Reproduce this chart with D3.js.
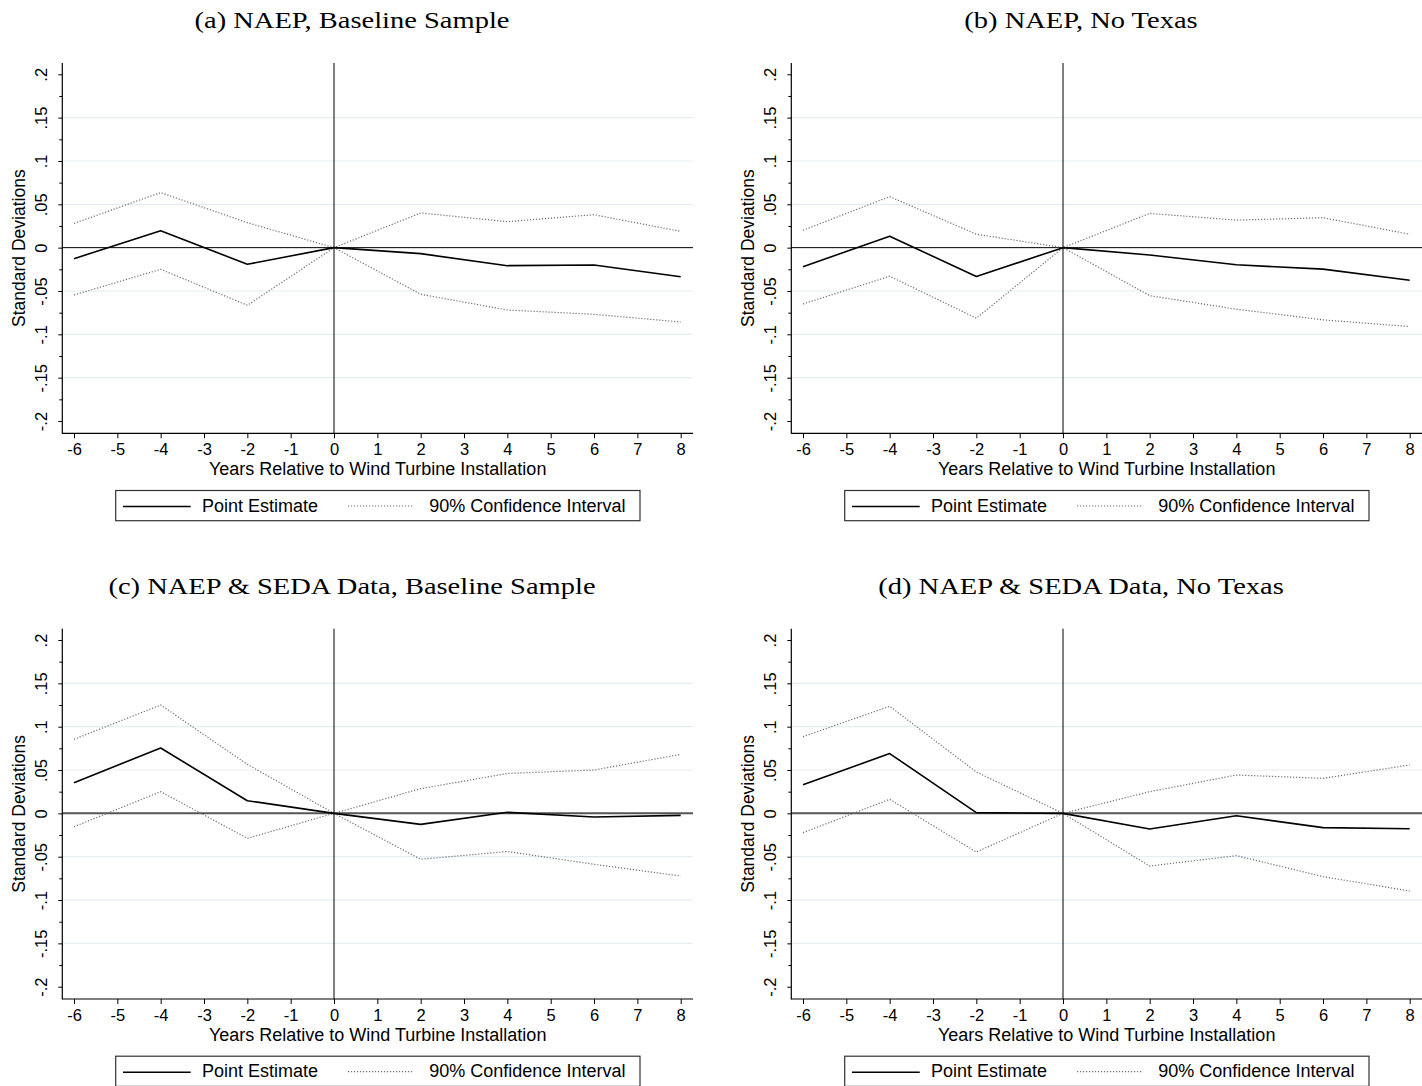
<!DOCTYPE html>
<html lang="en">
<head>
  <meta charset="utf-8">
  <title>Wind turbines and test scores</title>
  <script src="https://d3js.org/d3.v7.min.js"></script>
  <style>
    body { margin: 0; background: #fff; }
    text { font-family: "Liberation Sans", Arial, sans-serif; fill: #000; }
  </style>
</head>
<body>
<script type="text/javascript">
  // event time (years relative to installation)
  var years = [-6, -4, -2, 0, 2, 4, 6, 8];

  // (a) NAEP, baseline sample
  var pointA = [-0.0127, 0.0196, -0.0192, 0, -0.0069, -0.0208, -0.0200, -0.0335];
  var upperA = [0.0280, 0.0635, 0.0288, 0, 0.0400, 0.0300, 0.0380, 0.0188];
  var lowerA = [-0.0546, -0.0250, -0.0665, 0, -0.0538, -0.0719, -0.0769, -0.0858];

  // (b) NAEP, no Texas
  var pointB = [-0.0220, 0.0132, -0.0333, 0, -0.0085, -0.0198, -0.0248, -0.0376];
  var upperB = [0.0200, 0.0589, 0.0155, 0, 0.0395, 0.0318, 0.0345, 0.0155];
  var lowerB = [-0.0650, -0.0330, -0.0814, 0, -0.0554, -0.0710, -0.0833, -0.0910];

  // (c) NAEP & SEDA, baseline sample
  var pointC = [0.0354, 0.0754, 0.0146, 0, -0.0127, 0.0012, -0.0042, -0.0023];
  var upperC = [0.0854, 0.1250, 0.0565, 0, 0.0285, 0.0460, 0.0500, 0.0680];
  var lowerC = [-0.0154, 0.0250, -0.0288, 0, -0.0530, -0.0440, -0.0588, -0.0723];

  // (d) NAEP & SEDA, no Texas
  var pointD = [0.0330, 0.0690, 0.0008, 0, -0.0180, -0.0027, -0.0165, -0.0177];
  var upperD = [0.0885, 0.1235, 0.0477, 0, 0.0250, 0.0442, 0.0404, 0.0558];
  var lowerD = [-0.0223, 0.0162, -0.0446, 0, -0.0608, -0.0488, -0.0730, -0.0896];

  var titles = ["(a) NAEP, Baseline Sample", "(b) NAEP, No Texas",
                "(c) NAEP & SEDA Data, Baseline Sample", "(d) NAEP & SEDA Data, No Texas"];

  var xTicks = [-6, -5, -4, -3, -2, -1, 0, 1, 2, 3, 4, 5, 6, 7, 8];
  var yTicks = [-0.2, -0.15, -0.1, -0.05, 0, 0.05, 0.1, 0.15, 0.2];
  var yTickLabels = ["-.2", "-.15", "-.1", "-.05", "0", ".05", ".1", ".15", ".2"];
  var yMinorTicks = [-0.175, -0.125, -0.075, -0.025, 0.025, 0.075, 0.125, 0.175];
  var gridTicks = [-0.15, -0.1, -0.05, 0.05, 0.1, 0.15];

  var xTitle = "Years Relative to Wind Turbine Installation";
  var yTitle = "Standard Deviations";
  var legendLabels = ["Point Estimate", "90% Confidence Interval"];

  var w = 1422;
  var h = 1086;

  // panel-local geometry
  var plotLeft = 62.3, plotRight = 693, plotTop = 63, plotBottom = 433.3;

  var x = d3.scaleLinear().domain([-6, 8]).range([74, 680.7]);
  var y = d3.scaleLinear().domain([-0.2, 0.2]).range([421, 74.3]);

  var panels = [
    {title: titles[0], point: pointA, upper: upperA, lower: lowerA, ox: 0, oy: 0, zeroColor: "#000", zeroWidth: 1},
    {title: titles[1], point: pointB, upper: upperB, lower: lowerB, ox: 729, oy: 0, zeroColor: "#000", zeroWidth: 1},
    {title: titles[2], point: pointC, upper: upperC, lower: lowerC, ox: 0, oy: 565.7, zeroColor: "#555", zeroWidth: 2},
    {title: titles[3], point: pointD, upper: upperD, lower: lowerD, ox: 729, oy: 565.7, zeroColor: "#555", zeroWidth: 2}
  ];

  var svg = d3.select("body")
    .append("svg")
    .attr("width", w)
    .attr("height", h);

  svg.append("rect").attr("width", w).attr("height", h).attr("fill", "#fff");

  var line = d3.line()
    .x(function(d){ return x(d[0]); })
    .y(function(d){ return y(d[1]); });

  function pairs(arr){
    return years.map(function(yr, i){ return [yr, arr[i]]; });
  }

  var ciColor = "#6e6e6e";
  var titleScale = null;

  panels.forEach(function(p){
    var g = svg.append("g").attr("transform", "translate(" + p.ox + "," + p.oy + ")");

    // title (serif, stretched to the width of the original)
    var t = g.append("text")
      .text(p.title)
      .attr("text-anchor", "middle")
      .style("font-family", "'Liberation Serif', 'Times New Roman', serif")
      .style("font-size", "23.5px");
    if (titleScale === null){
      titleScale = 315 / t.node().getComputedTextLength();
    }
    t.attr("transform", "translate(352,28.3) scale(" + titleScale + ",1)");

    // grid lines
    g.selectAll(".grid")
      .data(gridTicks)
      .enter()
      .append("line")
      .attr("class", "grid")
      .attr("x1", plotLeft + 1)
      .attr("x2", plotRight)
      .attr("y1", function(d){ return y(d); })
      .attr("y2", function(d){ return y(d); })
      .attr("stroke", "#e4edf0")
      .attr("stroke-width", 1.2);

    // reference lines
    g.append("line")
      .attr("x1", plotLeft).attr("x2", plotRight)
      .attr("y1", y(0)).attr("y2", y(0))
      .attr("stroke", p.zeroColor)
      .attr("stroke-width", p.zeroWidth);
    g.append("line")
      .attr("x1", x(0)).attr("x2", x(0))
      .attr("y1", plotTop).attr("y2", plotBottom)
      .attr("stroke", "#000")
      .attr("stroke-width", 1);

    // confidence bands
    [p.upper, p.lower].forEach(function(arr){
      g.append("path")
        .datum(pairs(arr))
        .attr("d", line)
        .attr("fill", "none")
        .attr("stroke", ciColor)
        .attr("stroke-width", 1.2)
        .attr("stroke-dasharray", "1.2,1.8");
    });

    // point estimate
    g.append("path")
      .datum(pairs(p.point))
      .attr("d", line)
      .attr("fill", "none")
      .attr("stroke", "#000")
      .attr("stroke-width", 1.6)
      .attr("stroke-linejoin", "round");

    // y axis
    var yAxis = g.append("g")
      .attr("transform", "translate(" + plotLeft + ",0)")
      .call(d3.axisLeft(y).tickValues(yTicks).tickSize(4)
        .tickFormat(function(d, i){ return yTickLabels[i]; }));
    yAxis.select(".domain").remove();
    yAxis.selectAll("text")
      .attr("transform", "rotate(-90)")
      .attr("x", 0)
      .attr("y", -15.6)
      .attr("dy", null)
      .attr("text-anchor", "middle")
      .attr("font-size", 16.5)
      .style("font-size", "16.5px")
      .style("font-family", "'Liberation Sans', Arial, sans-serif");
    var yMinor = g.append("g")
      .attr("transform", "translate(" + plotLeft + ",0)")
      .call(d3.axisLeft(y).tickValues(yMinorTicks).tickSize(3).tickFormat(""));
    yMinor.select(".domain").remove();

    // x axis
    var xAxis = g.append("g")
      .attr("transform", "translate(0," + plotBottom + ")")
      .call(d3.axisBottom(x).tickValues(xTicks).tickSize(5).tickPadding(5)
        .tickFormat(function(d){ return String(d); }));
    xAxis.select(".domain").remove();
    xAxis.selectAll("text")
      .attr("font-size", 16.5)
      .style("font-size", "16.5px")
      .style("font-family", "'Liberation Sans', Arial, sans-serif");

    g.selectAll(".tick line").attr("stroke", "#000");

    // axis lines
    g.append("line")
      .attr("x1", plotLeft).attr("x2", plotLeft)
      .attr("y1", plotTop).attr("y2", plotBottom + 0.5)
      .attr("stroke", "#000").attr("stroke-width", 1.2);
    g.append("line")
      .attr("x1", plotLeft).attr("x2", plotRight)
      .attr("y1", plotBottom).attr("y2", plotBottom)
      .attr("stroke", "#000").attr("stroke-width", 1.2);

    // axis titles
    g.append("text")
      .text(xTitle)
      .attr("x", (plotLeft + plotRight) / 2)
      .attr("y", 475.3)
      .attr("text-anchor", "middle")
      .style("font-size", "18px");
    g.append("text")
      .text(yTitle)
      .attr("transform", "translate(25," + ((plotTop + plotBottom) / 2) + ") rotate(-90)")
      .attr("text-anchor", "middle")
      .style("font-size", "17.5px");

    // legend
    var lg = g.append("g");
    lg.append("rect")
      .attr("x", 115.7).attr("y", 490.5)
      .attr("width", 524.3).attr("height", 30.2)
      .attr("fill", "#fff")
      .attr("stroke", "#333")
      .attr("stroke-width", 1.2);
    lg.append("line")
      .attr("x1", 123).attr("x2", 190.7)
      .attr("y1", 506.5).attr("y2", 506.5)
      .attr("stroke", "#000").attr("stroke-width", 1.6);
    lg.append("text")
      .text(legendLabels[0])
      .attr("x", 202).attr("y", 511.7)
      .style("font-size", "18px");
    lg.append("line")
      .attr("x1", 348).attr("x2", 413)
      .attr("y1", 506).attr("y2", 506)
      .attr("stroke", ciColor).attr("stroke-width", 1.2)
      .attr("stroke-dasharray", "1.2,1.8");
    lg.append("text")
      .text(legendLabels[1])
      .attr("x", 429.3).attr("y", 511.7)
      .style("font-size", "18px");
  });
</script>
</body>
</html>
